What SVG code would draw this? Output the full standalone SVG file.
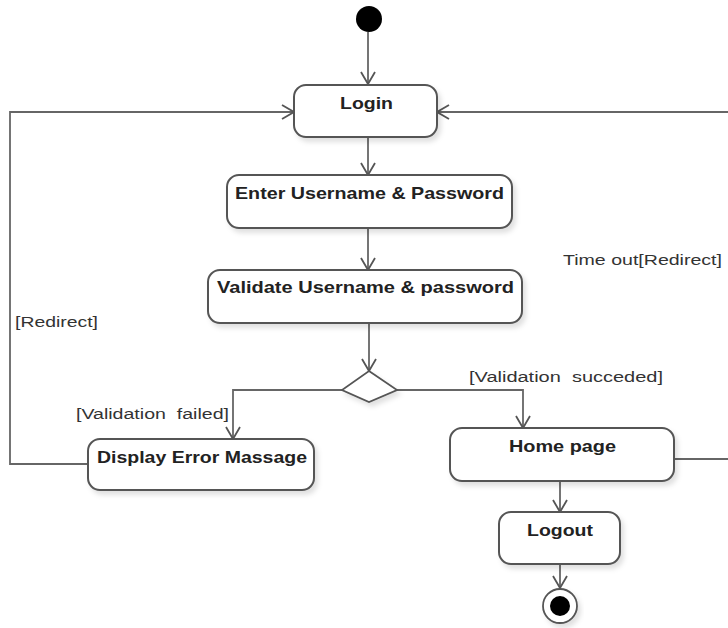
<svg xmlns="http://www.w3.org/2000/svg" width="728" height="628" viewBox="0 0 728 628">
  <style>
    .act { fill: #ffffff; stroke: #555555; stroke-width: 2; filter: url(#shadow); }
    .lbl { font-family: "Liberation Sans", Arial, sans-serif; font-weight: bold; font-size: 17px; fill: #222222; }
    .guard { font-family: "Liberation Sans", Arial, sans-serif; font-size: 15.5px; fill: #333333; white-space: pre; }
    .flow { fill: none; stroke: #666666; stroke-width: 1.8; marker-end: url(#open); }
  </style>
  <defs>
    <filter id="shadow" x="-10%" y="-10%" width="130%" height="140%">
      <feDropShadow dx="3" dy="4" stdDeviation="2.5" flood-color="#000000" flood-opacity="0.12"/>
    </filter>
    <marker id="open" viewBox="0 0 14 16" refX="13" refY="8" markerWidth="14" markerHeight="16" markerUnits="userSpaceOnUse" orient="auto">
      <path d="M1,1 L13,8 L1,15" fill="none" stroke="#555555" stroke-width="1.8"/>
    </marker>
  </defs>
  <rect width="728" height="628" fill="#ffffff"/>

  <g id="connectors">
    <path class="flow" d="M368,32 L368,84"/>
    <path class="flow" d="M368,137 L368,175"/>
    <path class="flow" d="M368,228 L368,270"/>
    <path class="flow" d="M369,323 L369,371"/>
    <path class="flow" d="M342,390 L233,390 L233,439"/>
    <path class="flow" d="M397,390 L523,390 L523,428"/>
    <path class="flow" d="M88,464 L10,464 L10,112 L294,112"/>
    <path class="flow" d="M674,459 L732,459 L732,112 L437,112"/>
    <path class="flow" d="M560,481 L560,512"/>
    <path class="flow" d="M560,564 L560,588"/>
    <text class="guard" x="15" y="327" textLength="83" lengthAdjust="spacingAndGlyphs">[Redirect]</text>
    <text class="guard" x="563" y="265" textLength="159" lengthAdjust="spacingAndGlyphs">Time out[Redirect]</text>
    <text class="guard" x="76" y="419" textLength="153" lengthAdjust="spacingAndGlyphs" xml:space="preserve">[Validation  failed]</text>
    <text class="guard" x="469" y="382" textLength="194" lengthAdjust="spacingAndGlyphs" xml:space="preserve">[Validation  succeded]</text>
  </g>

  <g id="start">
    <circle cx="369" cy="19" r="13" fill="#000000"/>
  </g>

  <g id="login">
    <rect class="act" x="294" y="85" width="143" height="52" rx="12"/>
    <text class="lbl" x="340" y="109" textLength="53" lengthAdjust="spacingAndGlyphs">Login</text>
  </g>

  <g id="enter-credentials">
    <rect class="act" x="227" y="175" width="285" height="53" rx="12"/>
    <text class="lbl" x="235" y="199" textLength="269" lengthAdjust="spacingAndGlyphs">Enter Username &amp; Password</text>
  </g>

  <g id="validate-credentials">
    <rect class="act" x="208" y="270" width="314" height="53" rx="12"/>
    <text class="lbl" x="217" y="293" textLength="297" lengthAdjust="spacingAndGlyphs">Validate Username &amp; password</text>
  </g>

  <g id="decision">
    <polygon points="369,371 397,390 369,402 342,390" fill="#ffffff" stroke="#555555" stroke-width="1.8" filter="url(#shadow)"/>
  </g>

  <g id="display-error">
    <rect class="act" x="88" y="439" width="226" height="51" rx="12"/>
    <text class="lbl" x="97" y="463" textLength="210" lengthAdjust="spacingAndGlyphs">Display Error Massage</text>
  </g>

  <g id="home-page">
    <rect class="act" x="450" y="428" width="224" height="53" rx="12"/>
    <text class="lbl" x="509" y="452" textLength="107" lengthAdjust="spacingAndGlyphs">Home page</text>
  </g>

  <g id="logout">
    <rect class="act" x="499" y="512" width="121" height="52" rx="12"/>
    <text class="lbl" x="527" y="536" textLength="66" lengthAdjust="spacingAndGlyphs">Logout</text>
  </g>

  <g id="end">
    <circle cx="560" cy="606" r="17" fill="#ffffff" stroke="#555555" stroke-width="1.8" filter="url(#shadow)"/>
    <circle cx="560" cy="606" r="10" fill="#000000"/>
  </g>
</svg>
